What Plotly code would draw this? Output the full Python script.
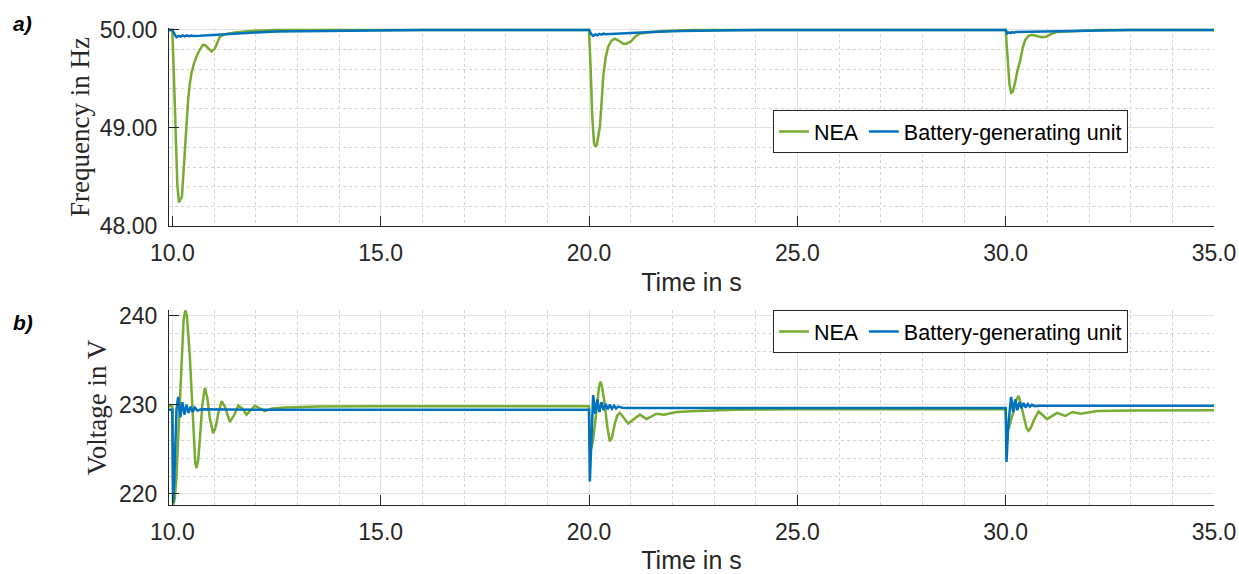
import plotly.graph_objects as go

# ---------------- data ----------------
t_f_nea = [9.92, 10.0, 10.04, 10.08, 10.12, 10.16, 10.20, 10.23, 10.26, 10.30, 10.34, 10.38, 10.42, 10.46,
           10.52, 10.58, 10.66, 10.74, 10.80, 10.86, 10.94, 11.02, 11.08, 11.14, 11.22, 11.30, 11.5, 11.9,
           12.5, 20.0,
           20.04, 20.08, 20.12, 20.15, 20.19, 20.23, 20.26, 20.30, 20.34, 20.40, 20.46, 20.54, 20.62, 20.72,
           20.82, 20.90, 21.0, 21.1, 21.2, 21.4, 21.8, 22.5, 30.0,
           30.05, 30.09, 30.13, 30.17, 30.22, 30.28, 30.35, 30.41, 30.47, 30.55, 30.63, 30.75, 30.87, 30.97,
           31.1, 31.23, 31.6, 32.2, 35.0]
f_nea = [50.0, 50.0, 49.5, 48.9, 48.42, 48.24, 48.27, 48.30, 48.5, 48.78, 49.05, 49.29, 49.45, 49.56,
         49.66, 49.73, 49.80, 49.85, 49.84, 49.81, 49.78, 49.81, 49.87, 49.93, 49.95, 49.96, 49.975, 49.99,
         50.0, 50.0,
         49.6, 49.1, 48.85, 48.81, 48.83, 48.93, 49.01, 49.25, 49.52, 49.72, 49.83, 49.89, 49.91, 49.89,
         49.86, 49.86, 49.88, 49.93, 49.96, 49.975, 49.99, 50.0, 50.0,
         49.7, 49.45, 49.36, 49.37, 49.45, 49.58, 49.69, 49.82, 49.90, 49.94, 49.95, 49.935, 49.925, 49.93,
         49.96, 49.98, 49.99, 50.0, 50.0]

t_f_bat = [9.92, 10.0, 10.05, 10.10, 10.15, 10.20, 10.25, 10.30, 10.35, 10.40, 10.45, 10.5, 10.66, 11.0,
           11.45, 12.0, 12.5, 13.3, 14.5, 16.0, 20.0,
           20.05, 20.10, 20.15, 20.20, 20.25, 20.30, 20.35, 20.40, 20.6, 21.0, 21.5, 22.2, 23.5, 25.0, 30.0,
           30.04, 30.08, 30.12, 30.16, 30.20, 30.25, 30.4, 31.0, 32.0, 33.0, 35.0]
f_bat = [50.0, 50.0, 49.96, 49.925, 49.94, 49.932, 49.945, 49.935, 49.944, 49.937, 49.943, 49.938, 49.94, 49.95,
         49.962, 49.975, 49.985, 49.99, 49.997, 50.0, 50.0,
         49.96, 49.94, 49.955, 49.946, 49.96, 49.952, 49.962, 49.957, 49.963, 49.97, 49.98, 49.99, 49.997, 50.0, 50.0,
         49.965, 49.976, 49.968, 49.978, 49.972, 49.978, 49.979, 49.986, 49.995, 50.0, 50.0]

t_v_nea = [9.92, 10.0, 10.02, 10.06, 10.10, 10.16, 10.22, 10.27, 10.31, 10.35, 10.42, 10.50, 10.55, 10.58,
           10.62, 10.66, 10.72, 10.78, 10.84, 10.90, 10.98, 11.04, 11.10, 11.18, 11.26, 11.38, 11.48, 11.58,
           11.68, 11.78, 11.90, 11.98, 12.10, 12.22, 12.4, 12.7, 13.5, 15.0, 20.0,
           20.02, 20.06, 20.10, 20.18, 20.24, 20.28, 20.32, 20.38, 20.44, 20.50, 20.55, 20.62, 20.68, 20.74,
           20.82, 20.94, 21.05, 21.22, 21.38, 21.5, 21.62, 21.8, 22.1, 22.6, 23.5, 25.0, 30.0,
           30.02, 30.08, 30.14, 30.20, 30.26, 30.31, 30.36, 30.43, 30.50, 30.55, 30.60, 30.68, 30.79, 30.90,
           30.99, 31.10, 31.23, 31.43, 31.6, 31.8, 32.2, 33.0, 35.0]
v_nea = [229.85, 229.85, 218.8, 219.5, 222.0, 228.5, 235.4, 239.5, 240.6, 240.0, 235.4, 228.0, 223.5, 222.9,
         223.8, 226.1, 230.0, 231.9, 230.8, 228.5, 226.8, 227.5, 229.0, 230.4, 229.8, 228.1, 228.8, 229.9,
         229.6, 228.9, 229.5, 229.9, 229.6, 229.3, 229.6, 229.7, 229.8, 229.85, 229.85,
         224.8, 225.2, 226.1, 229.4, 232.0, 232.6, 231.8, 230.0, 227.5, 225.9, 226.3, 227.9, 228.8, 229.1,
         228.6, 227.9, 228.3, 228.9, 228.4, 228.7, 229.0, 228.9, 229.2, 229.3, 229.45, 229.5, 229.5,
         227.2, 227.4, 228.5, 229.4, 230.6, 231.0, 230.2, 228.7, 227.4, 227.1, 227.4, 228.3, 229.25, 228.8,
         228.4, 228.7, 229.1, 228.75, 229.2, 229.0, 229.3, 229.35, 229.4]

t_v_bat = [9.92, 10.0, 10.02, 10.05, 10.10, 10.14, 10.19, 10.24, 10.29, 10.34, 10.39, 10.44, 10.49, 10.54,
           10.6, 10.7, 12.0, 20.0,
           20.02, 20.05, 20.10, 20.15, 20.20, 20.25, 20.30, 20.35, 20.40, 20.45, 20.50, 20.55, 20.60, 20.65,
           20.70, 20.80, 21.0, 30.0,
           30.02, 30.06, 30.13, 30.18, 30.23, 30.28, 30.33, 30.38, 30.43, 30.48, 30.53, 30.58, 30.63, 30.7,
           30.8, 35.0]
v_bat = [229.45, 229.45, 219.0, 222.0, 229.5, 230.9, 228.6, 230.3, 228.9, 230.0, 229.1, 229.8, 229.2, 229.7,
         229.35, 229.5, 229.45, 229.45,
         221.4, 226.0, 231.1, 229.0, 230.6, 229.2, 230.3, 229.4, 230.1, 229.5, 230.0, 229.55, 229.9, 229.6,
         229.8, 229.68, 229.65, 229.65,
         223.6, 227.5, 230.9, 229.2, 230.6, 229.4, 230.3, 229.6, 230.2, 229.7, 230.1, 229.8, 230.0, 229.85,
         229.9, 229.9]

x_ticks = [10.0, 15.0, 20.0, 25.0, 30.0, 35.0]
f_ticks = [48.0, 49.0, 50.0]
v_ticks = [220, 230, 240]

GREEN = "#77AC30"
BLUE = "#0072BD"
AX = "#262626"
SANS = "Liberation Sans, Arial, sans-serif"
SERIF = "Liberation Serif, Times New Roman, serif"

W, H = 1239, 574


def px_x(p):
    return p / W


def px_y(p):
    return 1 - p / H


fig = go.Figure()
fig.add_trace(go.Scatter(x=t_f_nea, y=f_nea, mode="lines", name="NEA",
                         line=dict(color=GREEN, width=2.5), xaxis="x", yaxis="y", legend="legend"))
fig.add_trace(go.Scatter(x=t_f_bat, y=f_bat, mode="lines", name="Battery-generating unit",
                         line=dict(color=BLUE, width=2.5), xaxis="x", yaxis="y", legend="legend"))
fig.add_trace(go.Scatter(x=t_v_nea, y=v_nea, mode="lines", name="NEA",
                         line=dict(color=GREEN, width=2.5), xaxis="x2", yaxis="y2", legend="legend2"))
fig.add_trace(go.Scatter(x=t_v_bat, y=v_bat, mode="lines", name="Battery-generating unit",
                         line=dict(color=BLUE, width=2.5), xaxis="x2", yaxis="y2", legend="legend2"))

xdom = [px_x(169), px_x(1214)]

common_x = dict(
    domain=xdom, range=[9.92, 35.0], tickmode="array", tickvals=x_ticks,
    ticktext=[f"{v:.1f}" for v in x_ticks],
    showline=True, linecolor=AX, linewidth=1, ticks="inside", ticklen=10, tickcolor=AX,
    showgrid=True, gridcolor="#e2e2e2", gridwidth=1, zeroline=False,
    minor=dict(dtick=1, tick0=10, showgrid=True, gridcolor="#d4d4d4", griddash="dot", gridwidth=1),
    tickfont=dict(family=SANS, size=23, color=AX),
    title=dict(text="Time in s", font=dict(family=SANS, size=25, color=AX), standoff=8),
    automargin=False, ticklabelstandoff=6,
)
common_y = dict(
    showline=True, linecolor=AX, linewidth=1, ticks="inside", ticklen=10, tickcolor=AX,
    showgrid=True, gridcolor="#e2e2e2", gridwidth=1, zeroline=False,
    tickfont=dict(family=SANS, size=23, color=AX), automargin=False, ticklabelstandoff=6,
)

legend_common = dict(xanchor="left", yanchor="top", orientation="h",
                     bgcolor="white", bordercolor=AX, borderwidth=1,
                     font=dict(family=SANS, size=21.5, color="#000000"), tracegroupgap=0, itemwidth=30)

fig.update_layout(
    width=W, height=H, margin=dict(l=0, r=0, t=0, b=0),
    paper_bgcolor="white", plot_bgcolor="white", showlegend=True,
    xaxis=dict(anchor="y", **common_x),
    xaxis2=dict(anchor="y2", **common_x),
    yaxis=dict(anchor="x", domain=[px_y(226), px_y(28)], range=[48.0, 50.02],
               tickmode="array", tickvals=f_ticks, ticktext=[f"{v:.2f}" for v in f_ticks],
               minor=dict(dtick=0.2, tick0=48, showgrid=True, gridcolor="#d4d4d4", griddash="dot", gridwidth=1),
               title=dict(text="Frequency in Hz", font=dict(family=SERIF, size=27, color=AX), standoff=2),
               **common_y),
    yaxis2=dict(anchor="x2", domain=[px_y(505), px_y(310)], range=[218.76, 240.64],
                tickmode="array", tickvals=v_ticks, ticktext=[str(v) for v in v_ticks],
                minor=dict(dtick=2, tick0=220, showgrid=True, gridcolor="#d4d4d4", griddash="dot", gridwidth=1),
                title=dict(text="Voltage in V", font=dict(family=SERIF, size=27, color=AX), standoff=4),
                **common_y),
    legend=dict(x=px_x(773), y=px_y(110), **legend_common),
    legend2=dict(x=px_x(773), y=px_y(310), **legend_common),
    annotations=[
        dict(text="<b><i>a)</i></b>", x=px_x(11), y=px_y(24), xref="paper", yref="paper",
             xanchor="left", yanchor="middle", showarrow=False, font=dict(family=SANS, size=21, color="#000")),
        dict(text="<b><i>b)</i></b>", x=px_x(11), y=px_y(322), xref="paper", yref="paper",
             xanchor="left", yanchor="middle", showarrow=False, font=dict(family=SANS, size=21, color="#000")),
    ],
)

fig.write_html("out.html")
